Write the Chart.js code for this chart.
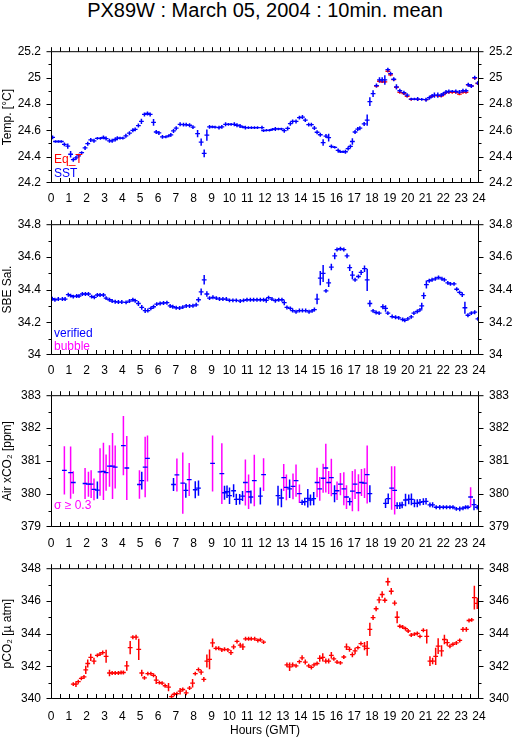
<!DOCTYPE html>
<html><head><meta charset="utf-8">
<script src="https://cdn.jsdelivr.net/npm/chart.js@4.4.1/dist/chart.umd.min.js"></script>
<style>
html,body{margin:0;padding:0;background:#fff;}
body{width:515px;height:739px;position:relative;overflow:hidden;font-family:"Liberation Sans",Arial,sans-serif;}
#title{position:absolute;left:51px;width:428px;top:0px;text-align:center;font-size:20px;line-height:20px;color:#000;white-space:nowrap;}
canvas{position:absolute;left:0;}
</style></head><body>
<div id="title">PX89W : March 05, 2004 : 10min. mean</div>
<canvas id="c1" width="515" height="179" style="top:34px;width:515px;height:179px"></canvas>
<canvas id="c2" width="515" height="178" style="top:207px;width:515px;height:178px"></canvas>
<canvas id="c3" width="515" height="179" style="top:378px;width:515px;height:179px"></canvas>
<canvas id="c4" width="515" height="188" style="top:551px;width:515px;height:188px"></canvas>
<script>
// ---------- tick labels ----------
const hourTicks = [0,1,2,3,4,5,6,7,8,9,10,11,12,13,14,15,16,17,18,19,20,21,22,23,24];
const tempTicks = [24.2,24.4,24.6,24.8,25,25.2];
const salTicks  = [34,34.2,34.4,34.6,34.8];
const xco2Ticks = [379,380,381,382,383];
const pco2Ticks = [340,342,344,346,348];

// ---------- panel 1: temperature ----------
const sstTime = [0.09,0.25,0.42,0.58,0.75,0.94,1.1,1.25,1.4,1.55,
 1.72,1.91,2.06,2.23,2.41,2.6,2.77,2.94,3.09,3.28,
 3.43,3.6,3.72,3.87,4.03,4.2,4.4,4.59,4.72,4.9,
 5.07,5.24,5.41,5.56,5.75,5.9,6.05,6.25,6.44,6.6,
 6.72,6.87,7.02,7.24,7.43,7.58,7.77,7.96,8.22,8.42,
 8.59,8.74,8.89,9.05,9.2,9.42,9.58,9.79,9.95,10.1,
 10.28,10.43,10.6,10.75,10.9,11.07,11.24,11.41,11.58,11.83,
 11.92,12.08,12.25,12.42,12.58,12.75,12.92,13.08,13.27,13.42,
 13.55,13.74,13.93,14.1,14.26,14.45,14.6,14.77,14.92,15.1,
 15.26,15.42,15.57,15.72,15.91,16.1,16.23,16.38,16.51,16.66,
 16.79,16.9,17.05,17.2,17.32,17.56,17.73,17.88,18.06,18.25,
 18.42,18.57,18.72,18.89,19.04,19.22,19.37,19.56,19.79,19.97,
 20.2,20.38,20.56,20.79,21.03,21.22,21.37,21.5,21.69,21.88,
 22.0,22.15,22.31,22.5,22.7,22.9,23.1,23.27,23.4,23.57,
 23.76,23.94];
const sstValues = [24.546,24.515,24.515,24.515,24.493,24.48,24.418,24.377,24.39,24.406,
 24.43,24.466,24.498,24.527,24.52,24.539,24.539,24.546,24.537,24.52,
 24.52,24.53,24.54,24.54,24.54,24.558,24.578,24.6,24.607,24.636,
 24.667,24.72,24.728,24.72,24.66,24.587,24.58,24.55,24.55,24.558,
 24.565,24.595,24.616,24.645,24.643,24.643,24.638,24.624,24.575,24.51,
 24.425,24.563,24.626,24.626,24.624,24.62,24.626,24.645,24.645,24.645,
 24.645,24.638,24.633,24.625,24.62,24.62,24.62,24.62,24.62,24.62,
 24.597,24.6,24.6,24.607,24.61,24.61,24.61,24.597,24.614,24.65,
 24.667,24.667,24.696,24.7,24.677,24.643,24.643,24.617,24.585,24.566,
 24.507,24.556,24.544,24.478,24.471,24.447,24.437,24.437,24.437,24.461,
 24.478,24.515,24.587,24.609,24.616,24.648,24.677,24.817,24.878,24.939,
 24.982,24.982,24.982,25.06,25.03,24.987,24.93,24.9,24.885,24.866,
 24.837,24.837,24.837,24.834,24.832,24.847,24.861,24.866,24.866,24.866,
 24.876,24.89,24.895,24.895,24.895,24.89,24.9,24.9,24.946,24.936,
 24.999,24.958];
const sstErr = [0.015,0.01,0.01,0.01,0.015,0.02,0.024,0.015,0.015,0.015,
 0.01,0.015,0.015,0.015,0.015,0.01,0.01,0.015,0.015,0.015,
 0.015,0.015,0.015,0.01,0.01,0.015,0.015,0.015,0.015,0.015,
 0.02,0.015,0.015,0.015,0.026,0.015,0.015,0.015,0.01,0.01,
 0.015,0.015,0.015,0.015,0.015,0.015,0.015,0.015,0.027,0.027,
 0.03,0.042,0.015,0.01,0.01,0.015,0.015,0.015,0.01,0.01,
 0.015,0.015,0.015,0.01,0.015,0.01,0.01,0.01,0.01,0.015,
 0.01,0.01,0.01,0.01,0.015,0.01,0.01,0.015,0.015,0.015,
 0.015,0.015,0.015,0.015,0.015,0.015,0.015,0.015,0.015,0.015,
 0.024,0.015,0.03,0.015,0.01,0.015,0.01,0.01,0.015,0.015,
 0.015,0.024,0.015,0.015,0.015,0.015,0.042,0.033,0.025,0.015,
 0.02,0.02,0.036,0.015,0.015,0.015,0.02,0.015,0.015,0.015,
 0.01,0.01,0.015,0.01,0.015,0.015,0.015,0.02,0.02,0.015,
 0.015,0.015,0.015,0.01,0.015,0.015,0.015,0.015,0.015,0.015,
 0.015,0.015];
const eqTime = [18.25,18.42,18.57,18.72,18.89,19.04,19.22,19.37,19.56,19.79,
 19.97,20.2,20.56,21.03,21.37,21.69,21.88,22.0,22.15,22.31,
 22.5,22.7,22.9,23.1,23.27,23.4,23.57,23.76,23.94];
const eqValues = [24.935,24.972,24.968,24.968,25.048,25.02,24.985,24.925,24.888,24.878,
 24.858,24.835,24.835,24.832,24.858,24.862,24.86,24.87,24.885,24.887,
 24.887,24.887,24.875,24.888,24.888,24.944,24.936,24.995,24.955];
const eqErr = [0.01,0.01,0.01,0.01,0.01,0.01,0.01,0.01,0.01,0.01,
 0.01,0.01,0.01,0.01,0.01,0.01,0.01,0.01,0.01,0.01,
 0.01,0.01,0.01,0.01,0.01,0.01,0.01,0.01,0.01];

// ---------- panel 2: salinity ----------
const salTime = [0.07,0.22,0.41,0.64,0.79,0.97,1.1,1.25,1.44,1.57,
 1.76,1.93,2.1,2.28,2.43,2.6,2.75,2.94,3.09,3.28,
 3.43,3.6,3.78,3.97,4.21,4.4,4.59,4.72,4.9,5.09,
 5.28,5.43,5.6,5.75,5.93,6.12,6.31,6.5,6.68,6.83,
 7.02,7.21,7.39,7.58,7.77,7.96,8.14,8.27,8.42,8.59,
 8.74,8.89,9.08,9.27,9.45,9.64,9.83,10.01,10.2,10.39,
 10.61,10.8,10.99,11.18,11.36,11.55,11.74,11.92,12.07,12.2,
 12.39,12.58,12.77,12.95,13.08,13.23,13.42,13.55,13.74,13.93,
 14.1,14.28,14.47,14.64,14.77,14.92,15.1,15.26,15.42,15.57,
 15.72,15.91,16.04,16.23,16.42,16.6,16.75,16.9,17.05,17.24,
 17.39,17.58,17.73,17.88,18.06,18.23,18.4,18.61,18.76,18.89,
 19.13,19.32,19.5,19.72,19.84,20.01,20.2,20.35,20.54,20.69,
 20.79,20.9,21.05,21.21,21.37,21.55,21.73,21.92,22.06,22.25,
 22.4,22.6,22.75,22.91,23.06,23.21,23.38,23.57,23.76,23.94];
const salValues = [34.344,34.338,34.342,34.342,34.342,34.369,34.363,34.357,34.361,34.361,
 34.373,34.373,34.373,34.357,34.353,34.367,34.367,34.367,34.348,34.338,
 34.33,34.326,34.324,34.324,34.322,34.33,34.338,34.332,34.315,34.291,
 34.272,34.272,34.285,34.295,34.311,34.315,34.318,34.32,34.3,34.295,
 34.289,34.287,34.293,34.3,34.3,34.301,34.307,34.338,34.386,34.46,
 34.373,34.348,34.353,34.348,34.342,34.342,34.342,34.334,34.334,34.334,
 34.33,34.334,34.338,34.338,34.338,34.338,34.338,34.338,34.334,34.351,
 34.342,34.332,34.338,34.338,34.32,34.291,34.285,34.272,34.264,34.272,
 34.272,34.272,34.264,34.27,34.278,34.342,34.47,34.499,34.392,34.441,
 34.538,34.606,34.645,34.65,34.645,34.606,34.534,34.489,34.46,34.48,
 34.505,34.528,34.46,34.315,34.27,34.26,34.256,34.295,34.285,34.256,
 34.235,34.231,34.227,34.217,34.212,34.221,34.233,34.256,34.266,34.276,
 34.3,34.363,34.431,34.454,34.46,34.466,34.474,34.466,34.46,34.441,
 34.435,34.435,34.402,34.383,34.369,34.289,34.243,34.256,34.262,34.221];
const salErr = [0.012,0.012,0.012,0.012,0.012,0.012,0.012,0.012,0.012,0.012,
 0.012,0.012,0.012,0.012,0.012,0.012,0.012,0.012,0.012,0.012,
 0.012,0.012,0.012,0.012,0.012,0.012,0.012,0.012,0.015,0.015,
 0.015,0.012,0.012,0.012,0.012,0.012,0.012,0.012,0.012,0.012,
 0.012,0.012,0.012,0.012,0.012,0.012,0.012,0.015,0.021,0.029,
 0.017,0.012,0.012,0.012,0.012,0.012,0.012,0.012,0.012,0.012,
 0.012,0.012,0.012,0.012,0.012,0.012,0.012,0.012,0.015,0.012,
 0.012,0.012,0.012,0.012,0.015,0.012,0.012,0.012,0.012,0.012,
 0.012,0.012,0.012,0.012,0.012,0.032,0.044,0.052,0.012,0.025,
 0.02,0.02,0.012,0.012,0.012,0.015,0.02,0.025,0.012,0.012,
 0.015,0.02,0.068,0.02,0.012,0.012,0.012,0.015,0.02,0.012,
 0.012,0.012,0.012,0.012,0.012,0.012,0.012,0.012,0.012,0.012,
 0.02,0.02,0.025,0.012,0.012,0.012,0.012,0.012,0.012,0.012,
 0.012,0.012,0.012,0.012,0.015,0.036,0.012,0.012,0.012,0.012];

// ---------- panel 3: air xCO2 ----------
const airTime = [2.6,5.09,6.87,7.56,8.09,8.27,9.73,9.87,10.01,10.24,
 10.39,10.58,10.74,11.21,11.74,12.73,12.92,13.38,14.08,14.23,
 14.4,14.55,14.73,15.9,16.75,17.88,18.76,18.91,19.41,19.56,
 19.69,19.88,20.06,20.21,20.38,20.54,20.69,20.88,21.03,21.25,
 21.4,21.6,21.8,22.0,22.18,22.37,22.54,22.73,22.92,23.1,
 23.25,23.38,23.72,23.9];
const airValues = [380.12,380.41,380.29,380.11,380.13,380.18,380.04,380.07,379.95,380.1,
 379.84,379.84,379.94,379.91,379.94,379.95,379.88,380.16,379.75,379.77,
 379.87,379.82,379.86,380.01,379.77,380.01,379.72,379.86,379.65,379.65,
 379.67,379.82,379.84,379.84,379.72,379.72,379.75,379.77,379.78,379.67,
 379.67,379.6,379.6,379.6,379.6,379.6,379.6,379.55,379.55,379.57,
 379.6,379.6,379.68,379.6];
const airErr = [0.26,0.27,0.2,0.22,0.26,0.23,0.21,0.19,0.25,0.2,
 0.17,0.16,0.15,0.2,0.26,0.3,0.28,0.28,0.08,0.12,
 0.28,0.17,0.2,0.26,0.12,0.26,0.14,0.16,0.1,0.1,
 0.1,0.19,0.15,0.18,0.12,0.12,0.1,0.1,0.1,0.07,
 0.08,0.06,0.07,0.06,0.06,0.06,0.06,0.06,0.07,0.06,
 0.06,0.06,0.17,0.07];
const airSigTime = [0.75,1.1,1.25,1.91,2.1,2.25,2.41,2.75,2.94,3.09,
 3.28,3.45,3.6,4.06,4.25,4.96,5.28,5.41,7.06,7.39,
 7.75,9.06,9.58,10.9,11.08,11.4,11.92,13.05,13.2,13.57,
 13.74,13.93,14.92,15.07,15.26,15.41,15.57,15.72,16.04,16.23,
 16.42,16.57,16.9,17.05,17.24,17.41,17.58,17.73,19.1,19.27,
 23.53];
const airSigValues = [380.72,380.65,380.35,380.32,380.3,380.3,380.14,380.67,380.69,380.65,
 380.85,380.85,380.82,381.47,380.79,380.29,380.82,381.08,380.58,380.33,
 380.44,380.93,380.62,380.35,380.07,380.41,380.59,380.5,380.2,380.23,
 380.41,380.01,380.35,380.16,380.48,380.79,380.35,380.5,380.1,380.3,
 380.16,379.91,380.09,380.3,380.04,380.35,380.33,380.59,380.18,380.11,
 379.91];
const airSigErr = [0.73,0.79,0.34,0.47,0.38,0.42,0.33,0.72,0.87,0.55,
 0.63,1.0,0.65,0.9,0.97,0.43,0.92,0.7,0.5,0.93,
 0.5,0.85,0.92,0.7,0.52,0.78,0.5,0.41,0.39,0.39,
 0.49,0.28,0.45,0.36,0.44,0.74,0.35,0.57,0.28,0.34,
 0.5,0.36,0.61,0.45,0.56,0.41,0.45,0.88,0.66,0.73,
 0.3];

// ---------- panel 4: pCO2 ----------
const pco2Time = [1.25,1.4,1.53,1.7,1.85,1.95,2.06,2.23,2.41,2.6,
 2.75,2.9,3.09,3.28,3.43,3.6,3.78,3.93,4.06,4.25,
 4.44,4.59,4.77,4.92,5.09,5.24,5.43,5.6,5.75,5.9,
 6.08,6.23,6.4,6.59,6.76,6.91,7.06,7.24,7.39,7.58,
 7.77,7.94,8.09,8.27,8.42,8.57,8.74,8.89,9.06,9.25,
 9.4,9.58,9.73,9.92,10.09,10.24,10.43,10.61,10.76,10.91,
 11.08,11.23,11.42,11.6,11.74,11.92,13.23,13.38,13.55,13.74,
 13.93,14.08,14.26,14.45,14.6,14.75,14.92,15.07,15.24,15.41,
 15.57,15.72,15.86,16.04,16.23,16.42,16.57,16.74,16.9,17.05,
 17.21,17.38,17.58,17.73,17.88,18.06,18.23,18.4,18.57,18.72,
 18.89,19.08,19.27,19.41,19.56,19.72,19.88,20.03,20.2,20.38,
 20.54,20.69,20.88,21.07,21.25,21.4,21.57,21.71,21.9,22.06,
 22.22,22.37,22.54,22.73,22.92,23.1,23.29,23.44,23.59,23.74,
 23.9];
const pco2Values = [340.91,340.91,341.06,341.26,341.35,341.78,342.17,342.55,342.32,342.67,
 342.75,342.84,342.61,341.59,341.59,341.59,341.59,341.62,341.62,342.03,
 343.14,343.78,343.78,343.04,341.59,341.29,341.55,341.55,341.45,341.16,
 341.0,340.97,340.81,340.73,340.15,340.29,340.33,340.48,340.58,340.38,
 340.67,340.97,341.55,341.8,341.64,341.2,342.32,342.42,343.43,343.1,
 343.1,343.0,343.04,343.0,342.84,343.19,343.52,343.29,343.19,343.68,
 343.68,343.68,343.68,343.58,343.62,343.48,342.09,341.97,342.09,342.03,
 342.28,342.52,342.26,342.03,341.93,342.09,342.17,342.48,342.55,342.32,
 342.32,342.67,342.46,342.26,342.21,342.57,343.19,343.04,342.71,342.94,
 343.14,343.39,343.23,343.1,344.26,344.98,345.52,346.06,346.39,346.04,
 347.17,346.59,345.87,345.0,344.45,344.4,344.3,344.16,343.91,343.97,
 344.01,343.83,344.2,343.83,342.32,342.32,342.61,343.23,342.94,343.64,
 343.45,343.23,343.35,343.43,343.58,344.26,344.26,344.8,344.84,346.2,
 345.85];
const pco2Err = [0.12,0.17,0.12,0.12,0.12,0.25,0.25,0.22,0.2,0.12,
 0.12,0.12,0.4,0.2,0.12,0.12,0.12,0.12,0.12,0.3,
 0.4,0.12,0.15,0.65,0.2,0.12,0.12,0.12,0.12,0.25,
 0.12,0.12,0.12,0.25,0.12,0.12,0.12,0.2,0.12,0.15,
 0.12,0.26,0.12,0.12,0.15,0.15,0.4,0.6,0.27,0.12,
 0.12,0.12,0.12,0.12,0.15,0.15,0.12,0.15,0.2,0.12,
 0.12,0.12,0.12,0.12,0.12,0.12,0.15,0.26,0.15,0.12,
 0.12,0.15,0.15,0.12,0.12,0.12,0.12,0.2,0.25,0.15,
 0.15,0.2,0.12,0.12,0.12,0.12,0.2,0.15,0.15,0.2,
 0.12,0.12,0.25,0.45,0.4,0.15,0.15,0.2,0.2,0.15,
 0.25,0.2,0.15,0.36,0.12,0.12,0.12,0.12,0.12,0.12,
 0.12,0.12,0.12,0.43,0.3,0.2,0.53,0.48,0.34,0.29,
 0.2,0.12,0.12,0.12,0.12,0.15,0.15,0.12,0.12,0.73,
 0.34];

// ---------- colours ----------
const BLUE = '#0000ff', RED = '#ff0000', MAGENTA = '#ff00ff';
const FONT = '"Liberation Sans", Arial, Helvetica, sans-serif';
Chart.defaults.font.family = FONT;
Chart.defaults.font.size = 12;
Chart.defaults.color = '#000';

function errorBars(times, vals, errs, color) {
  return { type: 'bar', data: times.map((t, i) => ({ x: t, y: [vals[i] - errs[i], vals[i] + errs[i]] })),
    backgroundColor: color, borderWidth: 0, barThickness: 1.5, inflateAmount: 0, grouped: false };
}
function centerMarks(times, vals, color) {
  return { type: 'scatter', data: times.map((t, i) => ({ x: t, y: vals[i] })), showLine: false,
    pointStyle: 'line', pointRadius: 2.4, pointHoverRadius: 2.4, pointBorderWidth: 1.3,
    pointBorderColor: color, pointBackgroundColor: color, borderColor: color };
}

const frameTicks = {
  id: 'frameTicks',
  afterDatasetsDraw(chart, args, opts) {
    const { ctx, chartArea: a, scales } = chart;
    const x = scales.x, y = scales.y;
    const L = a.left + 0.5, R = a.right - 0.5, T = a.top + 0.5, B = a.bottom - 0.5;
    const snapX = v => Math.min(R, Math.max(L, Math.round(x.getPixelForValue(v)) + 0.5));
    const snapY = v => Math.min(B, Math.max(T, Math.round(y.getPixelForValue(v)) + 0.5));
    ctx.save();
    ctx.strokeStyle = '#000';
    ctx.lineWidth = 1;
    ctx.beginPath();
    ctx.rect(L, T, R - L, B - T);
    const xt = x.ticks.map(t => t.value);
    xt.forEach((v, i) => {
      const vals = [v];
      if (i < xt.length - 1) vals.push((v + xt[i + 1]) / 2);
      vals.forEach(w => {
        const px = snapX(w);
        ctx.moveTo(px, T); ctx.lineTo(px, T - 4.5);
        ctx.moveTo(px, B); ctx.lineTo(px, B - 4.5);
      });
    });
    const yt = y.ticks.map(t => t.value);
    yt.forEach((v, i) => {
      const py = snapY(v);
      ctx.moveTo(L, py); ctx.lineTo(L - 5, py);
      ctx.moveTo(R, py); ctx.lineTo(R + 5, py);
      if (i < yt.length - 1) {
        const pm = snapY((v + yt[i + 1]) / 2);
        ctx.moveTo(L, pm); ctx.lineTo(L - 3, pm);
        ctx.moveTo(R, pm); ctx.lineTo(R + 3, pm);
      }
    });
    ctx.stroke();
    ctx.font = '12px ' + FONT;
    ctx.textAlign = 'left';
    ctx.textBaseline = 'alphabetic';
    (opts.items || []).forEach(it => {
      ctx.fillStyle = it.color;
      ctx.fillText(it.text, a.left + 3, a.bottom - it.dy);
    });
    ctx.restore();
  }
};

function makePanel(id, p) {
  const yScale = pos => ({
    type: 'linear', position: pos, min: p.ticks[0], max: p.ticks[p.ticks.length - 1], beginAtZero: false,
    afterBuildTicks: s => { s.ticks = p.ticks.map(v => ({ value: v })); },
    afterFit: s => { s.width = pos === 'left' ? 51 : 36; },
    ticks: { padding: 10, callback: v => String(v), font: { size: 12 }, color: '#000' },
    grid: { display: false, drawTicks: false, tickLength: 0 },
    border: { display: false },
    title: pos === 'left' ? { display: true, text: p.yTitle, padding: 0, font: { size: 12 }, color: '#000' } : { display: false }
  });
  new Chart(document.getElementById(id), {
    type: 'scatter',
    data: { datasets: p.datasets },
    plugins: [frameTicks],
    options: {
      responsive: false, animation: false, devicePixelRatio: 1, events: [],
      layout: { padding: { top: 10, left: 0, right: 0, bottom: 0 } },
      scales: {
        x: {
          type: 'linear', min: 0, max: 24, offset: false,
          afterBuildTicks: s => { s.ticks = hourTicks.map(v => ({ value: v })); },
          afterFit: s => { s.height = p.xHeight; },
          ticks: { padding: p.xPad, autoSkip: false, maxRotation: 0, minRotation: 0, callback: v => String(v), font: { size: 12 }, color: '#000' },
          grid: { display: false, drawTicks: false, tickLength: 0, offset: false },
          border: { display: false },
          title: p.xTitle ? { display: true, text: p.xTitle, padding: { top: 0, bottom: 1.5 }, font: { size: 12 }, color: '#000' } : { display: false }
        },
        y: yScale('left'),
        y2: yScale('right')
      },
      plugins: { legend: { display: false }, tooltip: { enabled: false }, frameTicks: { items: p.legend } }
    }
  });
}

makePanel('c1', {
  ticks: tempTicks, yTitle: 'Temp. [°C]', xHeight: 30, xPad: 8,
  datasets: [
    centerMarks(sstTime, sstValues, BLUE),
    errorBars(sstTime, sstValues, sstErr, BLUE),
    centerMarks(eqTime, eqValues, RED),
    errorBars(eqTime, eqValues, eqErr, RED)
  ],
  legend: [{ text: 'Eq_T', color: RED, dy: 20 }, { text: 'SST', color: BLUE, dy: 6 }]
});
makePanel('c2', {
  ticks: salTicks, yTitle: 'SBE Sal.', xHeight: 30, xPad: 8,
  datasets: [
    centerMarks(salTime, salValues, BLUE),
    errorBars(salTime, salValues, salErr, BLUE)
  ],
  legend: [{ text: 'verified', color: BLUE, dy: 18 }, { text: 'bubble', color: MAGENTA, dy: 5 }]
});
makePanel('c3', {
  ticks: xco2Ticks, yTitle: 'Air xCO₂ [ppm]', xHeight: 30, xPad: 9,
  datasets: [
    centerMarks(airTime, airValues, BLUE),
    centerMarks(airSigTime, airSigValues, BLUE),
    errorBars(airTime, airValues, airErr, BLUE),
    errorBars(airSigTime, airSigValues, airSigErr, MAGENTA)
  ],
  legend: [{ text: 'σ ≥ 0.3', color: MAGENTA, dy: 18.5 }]
});
makePanel('c4', {
  ticks: pco2Ticks, yTitle: 'pCO₂ [µ atm]', xHeight: 40, xPad: 10, xTitle: 'Hours (GMT)',
  datasets: [
    centerMarks(pco2Time, pco2Values, RED),
    errorBars(pco2Time, pco2Values, pco2Err, RED)
  ],
  legend: []
});
</script>
</body></html>
